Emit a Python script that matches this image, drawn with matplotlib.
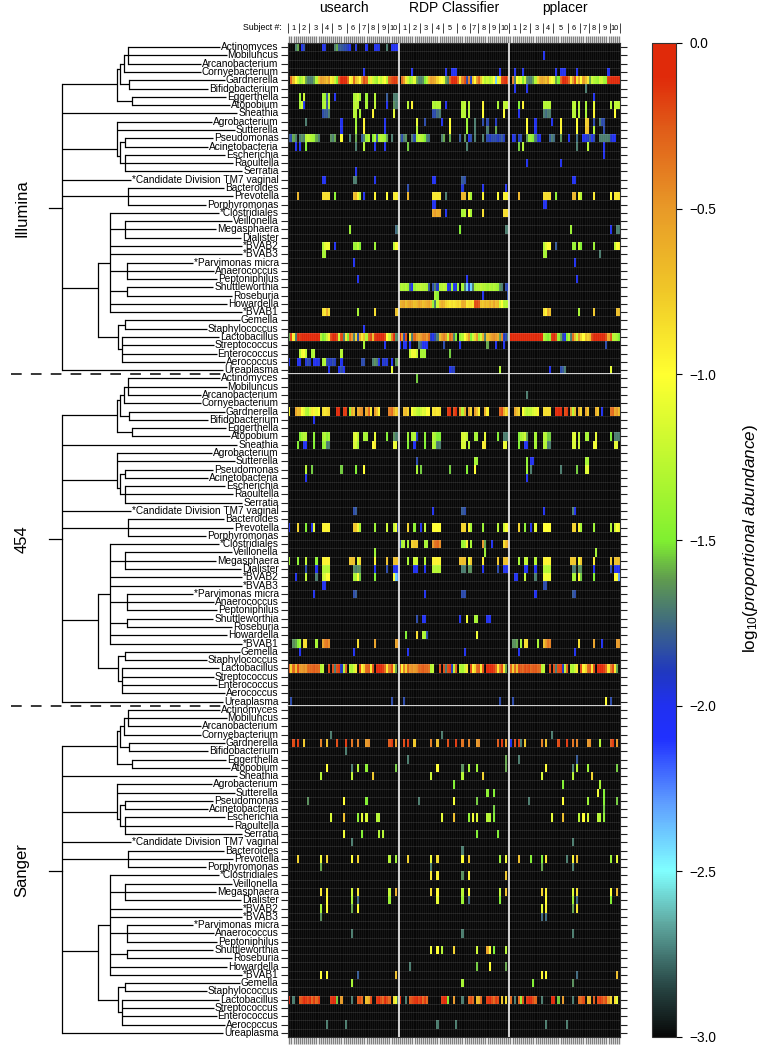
# abundance heatmap: three sequencing platforms, three classifiers, with a taxon tree on the left
import numpy as np
import matplotlib
matplotlib.use("Agg")
import matplotlib.pyplot as plt
from matplotlib.colors import LinearSegmentedColormap

plt.rcParams["font.family"] = "Liberation Sans"
plt.rcParams["mathtext.fontset"] = "custom"
plt.rcParams["mathtext.rm"] = "Liberation Sans"
plt.rcParams["mathtext.it"] = "Liberation Sans:italic"

taxa = ["Actinomyces", "Mobiluncus", "Arcanobacterium", "Cornyebacterium", "Gardnerella",
        "Bifidobacterium", "Eggerthella", "Atopobium", "Sneathia", "Agrobacterium",
        "Sutterella", "Pseudomonas", "Acinetobacteria", "Escherichia", "Raoultella",
        "Serratia", "*Candidate Division TM7 vaginal", "Bacteroides", "Prevotella",
        "Porphyromonas", "*Clostridiales", "Veillonella", "Megasphaera", "Dialister",
        "*BVAB2", "*BVAB3", "*Parvimonas micra", "Anaerococcus", "Peptoniphilus",
        "Shuttleworthia", "Roseburia", "Howardella", "*BVAB1", "Gemella",
        "Staphylococcus", "Lactobacillus", "Streptococcus", "Enterococcus", "Aerococcus",
        "Ureaplasma"]
methods = ["usearch", "RDP Classifier", "pplacer"]
platforms = ["Illumina", "454", "Sanger"]
subject_starts = [0, 5, 10, 16, 21, 28, 34, 38, 43, 48, 53]
cbar_ticks = [-3.0, -2.5, -2.0, -1.5, -1.0, -0.5, 0.0]

# each table is row -> {specimen column: log10 abundance}; anything missing is -3 (black)
ILLUMINA_USEARCH = {
    0: {3: -1.7, 4: -1.6, 6: -2, 7: -1.85, 16: -2, 17: -1.95, 22: -1.7, 23: -1.6, 24: -1.8, 25: -1.8, 26: -1.85, 27: -1.85,
        28: -1.9, 29: -2, 32: -1.95, 37: -2, 41: -2, 42: -2, 43: -1.95, 47: -1.7, 49: -2, 50: -2, 51: -2.05, 52: -2},
    3: {36: -2},
    4: dict(enumerate([-3, -0.3, -0.7, -1.0, -1.2, -1.4, -1.3, -1.15, -1.6, -1.7, -1.7, -1.7, -1.6, -1.3, -0.7, -0.5, -0.55, -0.6,
                       -0.7, -0.5, -0.95, -0.85, -1.2, -1.5, -0.3, -0.1, -0.1, -0.1, -0.3, -1.0, -0.9, -0.3, -0.7, -0.8, -1.0,
                       -0.5, -0.2, -0.3, -1.2, -0.9, -1.2, -1.3, -1.4, -1.1, -1.25, -1.1, -1.0, -1.3, -0.3, -0.2, -0.15, -0.15, -0.3])),
    6: {5: -1.4, 7: -1.2, 16: -1.35, 17: -1.4, 18: -1.8, 19: -1.3, 22: -2, 31: -1.35, 32: -1.3, 33: -1.2, 34: -1.4, 37: -1.4,
        41: -1.3, 47: -1.8, 50: -1.7, 51: -1.7, 52: -1.7},
    7: {5: -1.35, 6: -1.2, 7: -2, 16: -1.35, 17: -1.3, 18: -1.8, 19: -1.3, 31: -1.3, 32: -1.25, 33: -1.3, 37: -1.35, 41: -1.25,
        47: -2, 50: -1.65, 51: -1.7, 52: -1.7},
    8: {16: -1.85, 17: -1.8, 18: -1.8, 19: -1.7, 31: -1.3, 32: -1.3, 34: -1.35, 40: -0.95, 50: -1.1},
    9: {8: -1.7, 25: -2, 32: -1.4, 36: -0.95, 46: -2},
    10: {25: -2, 32: -1.35, 36: -0.95, 46: -2},
    11: {0: -1.8, 1: -1.85, 2: -1.6, 3: -1.7, 5: -1.7, 6: -1.65, 7: -1.7, 8: -1.3, 9: -1.25, 10: -1.3, 11: -1.35, 12: -1.4,
         13: -1.6, 14: -1.7, 20: -1.65, 21: -1.7, 22: -1.6, 25: -1.0, 29: -1.7, 32: -1.6, 35: -1.8, 36: -1.7, 37: -1.4, 38: -1.3,
         40: -1.5, 41: -1.3, 42: -1.8, 43: -1.35, 44: -1.3, 45: -1.35, 46: -1.4, 47: -1.6, 49: -1.7},
    12: {3: -2, 5: -2, 8: -1.5, 32: -1.7, 36: -1.3, 41: -2, 46: -2},
    15: {32: -2},
    16: {16: -2, 17: -2, 31: -1.7, 32: -1.7, 41: -2},
    18: {4: -0.65, 16: -0.85, 17: -0.85, 18: -0.85, 19: -0.85, 22: -1.45, 31: -0.7, 32: -0.65, 33: -0.95, 34: -1.3, 36: -2,
         41: -0.95, 47: -1.0, 50: -0.9, 51: -0.95, 52: -0.9},
    22: {29: -1.4, 51: -1.75, 52: -1.7},
    24: {16: -1.3, 17: -1.1, 18: -1.05, 19: -1.05, 22: -2, 31: -1.4, 32: -1.4, 33: -1.25, 34: -1.5, 41: -1.4, 50: -1.25, 51: -1.0, 52: -1.0},
    25: {16: -1.35, 17: -1.35},
    26: {31: -2},
    28: {33: -2},
    32: {16: -0.85, 17: -0.9, 18: -0.6, 19: -0.85, 33: -1.35, 41: -0.85, 51: -0.7, 52: -0.8},
    34: {36: -2},
    35: dict(enumerate([-1.6, -0.2, -0.95, -1.7, -0.1, -0.15, -0.05, -0.05, -0.05, -0.05, -0.05, -0.05, -0.05, -0.05, -0.1, -1.3, -1.5,
                        -1.4, -1.2, -0.95, -0.2, -0.1, -0.1, -0.2, -1.2, -0.2, -1.7, -0.9, -1.5, -0.3, -0.5, -1.7, -0.8, -1.85, -0.6,
                        -0.9, -0.7, -1.3, -0.3, -0.2, -0.7, -0.15, -0.05, -0.05, -0.1, -0.05, -0.2, -1.0, -1.2, -0.4, -0.1, -1.65, -1.7])),
    36: {36: -1.35, 46: -2},
    37: {5: -1.3, 6: -1.05, 7: -1.0, 8: -1.25, 11: -1.35, 12: -1.3, 25: -1.3},
    38: {0: -2, 4: -2, 5: -2, 8: -1.95, 9: -1.85, 10: -1.9, 12: -2, 13: -2, 14: -1.95, 16: -1.35, 17: -1.3, 18: -1.85, 19: -1.9,
         20: -1.9, 21: -1.85, 22: -1.9, 25: -2, 35: -1.85, 36: -1.85, 40: -1.7, 41: -1.65, 42: -1.7, 43: -2, 45: -1.95, 46: -1.9,
         47: -1.95, 49: -2, 51: -1.65, 52: -1.6},
    39: {19: -2, 24: -2, 25: -1.85, 26: -2, 49: -1.1},
}
ILLUMINA_RDP = {
    3: {6: -2, 22: -2, 25: -2, 26: -2.05, 27: -2, 48: -2},
    4: dict(enumerate([-3, -0.3, -0.5, -0.9, -1.2, -1.4, -1.3, -1.1, -1.6, -1.7, -1.7, -1.65, -1.5, -1.3, -0.7, -0.5, -0.55, -0.6, -0.8,
                       -0.95, -1.0, -1.1, -1.6, -1.7, -0.3, -0.1, -0.1, -0.1, -0.3, -0.9, -0.4, -0.2, -1.85, -0.4, -1.9, -0.7, -1.0,
                       -0.5, -0.3, -0.7, -1.1, -1.3, -1.2, -1.3, -1.2, -1.0, -2.4, -1.1, -0.9, -0.2, -0.15, -0.1, -0.3])),
    7: {4: -1.3, 6: -0.95, 16: -1.3, 17: -1.35, 18: -1.3, 19: -1.3, 22: -2, 30: -1.3, 31: -1.25, 33: -1.3, 40: -0.95, 47: -1.35,
        50: -1.25, 51: -1.25, 52: -1.25},
    8: {16: -1.85, 17: -1.85, 18: -1.75, 19: -1.7, 30: -1.3, 31: -1.3, 33: -1.3, 40: -1.0, 50: -1.0},
    9: {8: -1.1, 12: -1.85, 20: -2, 24: -1.0, 32: -1.4, 36: -1.7, 40: -1.85, 42: -1.85, 46: -1.9},
    10: {8: -1.3, 24: -1.0, 32: -1.4, 36: -1.7, 42: -1.7, 46: -1.6},
    11: {0: -1.7, 1: -1.85, 2: -1.7, 3: -1.65, 6: -1.7, 7: -1.85, 8: -1.35, 9: -1.25, 10: -1.3, 11: -1.35, 12: -1.5, 13: -1.7, 14: -1.75,
         20: -1.7, 21: -1.6, 24: -1.6, 29: -1.8, 31: -1.65, 33: -2, 34: -1.85, 36: -1.7, 40: -1.7, 42: -1.85, 43: -1.9, 44: -1.85,
         45: -1.85, 46: -1.85, 47: -1.9, 48: -1.85, 49: -1.8, 50: -1.9},
    12: {4: -1.55, 32: -1.7},
    16: {16: -2, 17: -2, 30: -1.8, 31: -1.85},
    17: {4: -1.85, 30: -1.95, 40: -2, 51: -2},
    18: {4: -0.65, 16: -0.9, 17: -0.9, 18: -0.9, 19: -0.9, 22: -1.7, 30: -0.65, 31: -0.65, 33: -0.9, 34: -1.35, 40: -0.95, 47: -1.0,
         50: -0.95, 51: -0.95, 52: -0.95},
    19: {16: -2, 17: -2},
    20: {16: -0.6, 17: -0.5, 18: -0.6, 19: -0.55, 22: -2, 30: -1.35, 31: -1.3, 33: -1.0, 34: -1.35, 40: -0.85, 50: -0.85, 51: -0.85, 52: -0.85},
    22: {29: -1.5, 51: -1.7, 52: -1.7},
    28: {32: -2},
    29: dict(enumerate([-1.35, -1.3, -1.35, -1.3, -1.4, -1.8, -2, -1.4, -1.3, -1.3, -1.25, -1.3, -1.3, -1.35, -1.8, -3, -1.85, -1.7, -1.9,
                        -1.3, -1.3, -1.25, -1.3, -2, -1.9, -1.4, -2, -1.95, -1.4, -3, -1.35, -1.7, -2.4, -1.9, -2.4, -1.7, -1.35, -1.3,
                        -1.3, -1.25, -1.3, -1.3, -1.35, -1.3, -1.35, -1.3, -1.35, -1.4, -1.65, -1.7, -3, -1.85, -1.9])),
    30: {17: -1.35, 18: -1.45, 40: -2, 52: -1.85},
    31: dict(enumerate([-0.65, -0.6, -0.55, -0.7, -0.6, -0.55, -0.6, -0.7, -0.65, -0.55, -0.6, -0.7, -0.65, -0.6, -0.55, -0.7, -1.4,
                        -1.7, -1.2, -0.7, -0.6, -0.65, -0.8, -0.85, -0.9, -0.85, -0.9, -0.85, -0.8, -0.85, -0.6, -0.6, -0.9, -0.85,
                        -0.85, -0.9, -0.2, -0.2, -0.25, -0.7, -0.75, -0.65, -0.7, -0.6, -0.7, -0.55, -0.7, -0.65, -1.2, -1.0, -1.3, -1.3, -1.3])),
    36: {0: -2, 2: -2.05, 3: -2, 5: -2, 9: -1.7, 10: -1.8, 11: -2, 12: -2, 13: -2, 21: -1.85, 29: -2, 42: -1.6, 46: -2, 50: -2},
    35: dict(enumerate([-0.1, -0.5, -1.85, -0.2, -3, -0.9, -1.7, -0.3, -0.5, -0.6, -0.5, -0.4, -0.4, -0.5, -0.3, -1.9, -2.0, -1.85, -1.7,
                        -0.7, -0.5, -0.4, -0.5, -1.2, -0.3, -0.4, -1.7, -1.5, -3, -1.4, -1.3, -1.0, -0.8, -0.5, -1.5, -1.2, -0.8, -0.5,
                        -1.4, -1.2, -0.6, -1.7, -0.7, -0.6, -0.5, -0.45, -0.5, -0.6, -1.6, -0.4, -1.9, -1.85, -1.7])),
    37: {5: -1.25, 6: -1.05, 7: -1.05, 8: -1.2, 10: -1.35, 11: -1.35, 12: -1.35, 24: -1.55},
    39: {24: -2, 25: -1.9, 26: -1.9, 48: -1.3},
}
ILLUMINA_PPLACER = {
    1: {16: -2},
    3: {2: -2, 6: -2, 22: -2, 24: -2, 25: -2, 26: -2, 32: -2, 47: -2},
    4: dict(enumerate([-3, -0.4, -1.7, -1.0, -1.2, -1.1, -1.5, -1.2, -1.65, -1.7, -1.7, -1.6, -1.3, -0.8, -0.6, -0.55, -0.6, -0.7, -0.5,
                       -0.9, -1.0, -1.1, -1.6, -1.5, -0.3, -0.1, -0.1, -0.15, -0.3, -0.9, -0.5, -0.2, -0.9, -0.6, -1.0, -0.5, -0.7,
                       -0.9, -1.6, -1.2, -1.3, -1.35, -1.4, -1.2, -1.2, -1.35, -1.4, -0.15, -0.1, -0.1, -0.1, -0.1, -0.1])),
    5: {2: -2, 8: -2, 36: -1.7},
    6: {40: -2},
    7: {4: -1.5, 6: -0.95, 16: -1.3, 17: -1.3, 18: -1.3, 19: -1.3, 30: -1.3, 31: -1.25, 33: -1.3, 36: -1.35, 40: -1.1, 48: -1.3,
        50: -1.25, 51: -1.25, 52: -1.25},
    8: {4: -2, 16: -1.7, 17: -1.75, 18: -1.7, 19: -1.7, 30: -1.3, 31: -1.3, 33: -1.3, 36: -1.35, 40: -0.95, 50: -1.0},
    9: {8: -1.0, 12: -2, 20: -2, 24: -0.95, 32: -1.0, 36: -0.8, 37: -0.75, 40: -1.85, 43: -1.7, 44: -1.85, 45: -1.85},
    10: {8: -1.0, 12: -2, 24: -0.95, 32: -1.0, 36: -0.75, 37: -0.7, 40: -1.3, 45: -1.85},
    11: {1: -2, 2: -1.9, 4: -1.9, 5: -1.85, 8: -1.65, 9: -1.4, 10: -1.4, 11: -1.5, 12: -1.7, 13: -1.95, 14: -2, 19: -1.8, 20: -1.7,
         21: -1.75, 24: -1.65, 28: -2, 32: -1.75, 35: -2, 36: -1.95, 37: -1.9, 38: -1.8, 39: -2, 40: -1.85, 43: -1.7, 44: -1.7,
         45: -1.7, 46: -1.7, 47: -1.7, 48: -1.9, 49: -2, 50: -2},
    12: {4: -1.55, 6: -1.3, 32: -1.7, 37: -1.3, 45: -2},
    13: {45: -2},
    14: {8: -2, 24: -2},
    16: {30: -2, 31: -2},
    18: {4: -0.65, 16: -0.85, 17: -0.85, 18: -0.85, 19: -0.85, 22: -1.45, 30: -0.65, 31: -0.65, 33: -0.95, 34: -1.3, 40: -0.9, 48: -1.0,
         50: -0.9, 51: -0.9, 52: -0.9},
    19: {16: -2, 17: -2},
    22: {29: -1.4, 48: -2, 51: -1.7, 52: -1.7},
    24: {16: -1.3, 17: -1.1, 18: -1.0, 19: -1.0, 22: -1.8, 30: -1.4, 31: -1.4, 33: -1.25, 34: -1.5, 40: -1.4, 50: -1.25, 51: -1.0, 52: -1.0},
    25: {16: -1.35, 17: -1.35, 43: -1.7},
    26: {31: -2},
    28: {32: -2},
    32: {16: -0.85, 17: -0.95, 18: -0.6, 19: -0.7, 33: -1.35, 40: -0.75, 51: -0.7, 52: -0.7},
    35: dict(enumerate([-0.05, -0.05, -0.1, -0.05, -0.05, -0.1, -0.05, -0.05, -0.05, -0.1, -0.05, -0.05, -0.1, -0.05, -0.05, -0.1, -1.3,
                        -1.4, -1.5, -1.4, -0.15, -0.1, -0.2, -1.4, -1.6, -1.85, -2, -1.5, -1.3, -1.7, -0.3, -0.7, -1.2, -0.5, -0.8, -1.0,
                        -0.7, -0.8, -0.7, -0.2, -0.1, -0.05, -0.05, -0.1, -0.05, -0.1, -0.2, -0.6, -0.25, -1.3, -1.3, -1.35, -1.5])),
    36: {46: -1.85},
    39: {19: -2, 24: -1.85, 25: -1.8, 26: -1.7, 48: -1.1},
}

FOUR54_USEARCH = {
    4: {0: -1.0, 3: -0.55, 4: -0.7, 5: -0.65, 6: -1.0, 7: -1.1, 8: -1.3, 9: -1.35, 10: -1.15, 11: -0.9, 12: -0.95, 13: -1.1, 14: -1.0,
        16: -0.85, 17: -0.9, 18: -0.85, 19: -0.8, 23: -0.1, 24: -0.1, 26: -0.15, 27: -0.15, 29: -1.4, 30: -0.6, 31: -0.7, 33: -0.6,
        34: -0.5, 35: -0.45, 37: -0.6, 38: -0.3, 39: -0.9, 41: -0.5, 42: -0.7, 43: -0.95, 48: -0.4, 49: -0.3, 50: -0.6, 51: -0.8, 52: -0.7},
    5: {12: -2},
    7: {5: -1.5, 6: -1.35, 7: -1.3, 8: -1.3, 12: -1.45, 16: -1.35, 17: -1.3, 18: -1.45, 19: -1.35, 31: -1.15, 32: -1.1, 33: -1.25,
        36: -1.35, 37: -1.35, 41: -1.1, 47: -1.5, 50: -1.65, 51: -1.7, 52: -1.7},
    8: {4: -1.5, 7: -2, 8: -2.05, 12: -1.5, 16: -1.45, 17: -1.4, 18: -1.7, 19: -1.7, 31: -1.15, 32: -1.15, 33: -1.35, 40: -1.0, 41: -0.9,
        50: -1.05, 51: -1.1},
    11: {8: -1.3, 11: -1.55, 25: -1.55, 32: -1.5, 36: -1.0},
    12: {8: -2},
    16: {31: -1.85, 32: -1.8},
    18: {0: -2, 4: -0.8, 8: -1.5, 11: -2, 12: -1.1, 16: -0.95, 17: -0.95, 18: -0.95, 19: -0.95, 31: -0.75, 32: -0.75, 33: -0.95, 34: -1.35,
         41: -1.4, 47: -1.2, 50: -1.25, 51: -1.05, 52: -1.85},
    21: {41: -1.4},
    22: {0: -1.35, 4: -1.45, 8: -1.25, 13: -1.45, 16: -0.95, 17: -0.95, 18: -0.95, 19: -0.95, 29: -0.75, 30: -0.7, 31: -0.7, 33: -1.15,
         34: -0.8, 41: -0.95, 47: -0.7, 50: -0.7, 51: -0.7, 52: -0.7},
    23: {8: -1.85, 13: -2, 16: -1.3, 17: -1.3, 18: -1.3, 19: -1.3, 31: -1.65, 32: -1.7, 33: -1.65, 34: -1.65, 41: -2, 47: -1.85,
         50: -2, 51: -2, 52: -2},
    24: {3: -2, 8: -1.25, 13: -1.7, 16: -1.2, 17: -1.15, 18: -1.0, 19: -1.0, 31: -1.35, 32: -1.35, 33: -1.0, 34: -1.55, 41: -1.5,
         50: -1.0, 51: -2.4, 52: -2.3},
    25: {16: -2, 17: -2},
    26: {12: -2, 31: -1.85, 32: -1.8},
    32: {2: -1.65, 3: -1.6, 4: -1.5, 5: -1.35, 7: -0.85, 8: -0.85, 13: -1.35, 16: -0.55, 17: -0.4, 18: -0.35, 19: -0.45, 33: -0.85,
         41: -0.55, 51: -0.55, 52: -0.5},
    33: {5: -2, 31: -2},
    35: {0: -0.3, 1: -0.8, 2: -0.3, 3: -0.7, 4: -0.2, 5: -0.5, 6: -0.5, 7: -0.45, 8: -0.5, 9: -0.3, 10: -0.3, 11: -0.3, 12: -0.25, 13: -0.3,
         14: -0.3, 15: -1.3, 16: -1.25, 19: -0.2, 21: -0.2, 22: -1.7, 23: -0.2, 24: -0.15, 25: -1.9, 26: -1.3, 27: -0.3, 29: -1.3, 30: -1.35,
         31: -1.2, 32: -0.9, 34: -0.2, 35: -0.95, 36: -0.8, 37: -0.3, 38: -0.25, 39: -0.9, 40: -0.2, 42: -0.1, 43: -0.1, 44: -0.1, 45: -0.15,
         46: -0.3, 47: -0.9, 48: -0.4, 49: -0.2, 50: -0.9, 51: -1.6},
    39: {1: -1.85, 49: -1.85},
}
FOUR54_RDP = {
    0: {8: -1.55},
    4: {2: -0.7, 3: -0.65, 4: -0.8, 6: -1.0, 7: -1.15, 8: -1.25, 9: -1.3, 10: -1.2, 11: -1.1, 12: -1.15, 13: -1.0, 14: -1.0, 16: -0.9,
        17: -0.85, 18: -0.9, 19: -0.85, 23: -0.15, 24: -0.1, 26: -0.2, 27: -0.1, 29: -0.5, 30: -1.3, 31: -0.6, 33: -0.55, 34: -0.8,
        36: -0.5, 37: -0.7, 38: -0.95, 41: -0.6, 42: -0.95, 48: -0.3, 49: -0.2, 50: -0.6, 51: -0.85, 52: -0.7},
    7: {4: -1.4, 6: -1.35, 7: -1.3, 8: -1.9, 12: -1.45, 16: -1.3, 17: -1.35, 18: -1.5, 19: -1.5, 30: -1.15, 31: -1.15, 32: -1.25, 36: -1.35,
        37: -1.35, 41: -1.1, 47: -1.5, 50: -1.7, 51: -1.7, 52: -1.7},
    8: {4: -1.5, 7: -2, 12: -1.5, 16: -1.3, 17: -1.35, 18: -1.7, 19: -1.7, 30: -1.15, 31: -1.15, 33: -1.3, 40: -0.95, 41: -0.9, 50: -1.05, 51: -1.1},
    10: {8: -1.85, 36: -1.35, 37: -1.4},
    11: {8: -1.35, 10: -1.55, 24: -1.55, 32: -1.5, 36: -1.0},
    16: {16: -2, 30: -1.8, 31: -1.85},
    18: {4: -0.8, 7: -1.45, 10: -2, 12: -1.25, 16: -1.0, 17: -1.0, 18: -1.0, 19: -1.0, 30: -0.8, 31: -0.8, 33: -0.95, 34: -1.35, 40: -1.4,
         47: -1.3, 50: -1.2, 51: -1.0, 52: -1.0},
    20: {0: -1.85, 1: -1.35, 2: -1.3, 4: -1.35, 6: -0.8, 7: -0.75, 8: -0.75, 12: -1.35, 13: -1.35, 16: -0.5, 17: -0.35, 18: -0.3, 19: -0.45,
         30: -1.4, 31: -1.35, 32: -0.95, 34: -1.35, 40: -0.5, 41: -1.6, 44: -2, 50: -0.85, 51: -0.7, 52: -0.55},
    21: {41: -1.4},
    22: {4: -1.35, 7: -1.2, 8: -1.2, 12: -1.3, 16: -0.95, 17: -0.95, 18: -0.95, 19: -0.95, 29: -0.7, 30: -0.7, 31: -0.7, 33: -1.1, 34: -0.75,
         40: -0.9, 47: -0.75, 50: -0.7, 51: -0.7, 52: -0.7},
    23: {7: -2, 8: -2, 12: -2, 16: -1.3, 17: -1.3, 18: -1.3, 19: -1.3, 30: -1.7, 31: -1.7, 33: -1.65, 34: -1.65, 40: -2, 47: -1.85, 50: -2, 51: -2, 52: -2},
    26: {12: -2, 30: -1.85, 31: -1.85},
    29: {8: -1.85, 11: -2, 12: -2, 29: -2, 32: -1.05, 36: -1.35, 37: -1.35, 42: -2, 43: -2},
    31: {3: -1.5, 8: -0.85, 11: -1.3, 12: -1.35, 13: -1.85, 37: -1.05},
    33: {4: -2, 31: -2},
    35: {0: -0.3, 1: -0.95, 2: -0.4, 3: -0.8, 4: -0.3, 5: -0.5, 6: -0.45, 7: -0.5, 8: -0.45, 9: -0.3, 10: -0.3, 11: -0.25, 12: -0.3, 13: -0.3,
         14: -0.35, 15: -1.3, 16: -1.25, 19: -0.2, 21: -0.2, 22: -1.7, 23: -0.2, 24: -0.15, 25: -1.9, 26: -1.3, 27: -0.3, 29: -1.3, 30: -1.35,
         31: -1.2, 32: -0.9, 34: -0.2, 35: -0.95, 36: -0.8, 37: -0.3, 38: -0.25, 39: -0.9, 40: -0.2, 42: -0.1, 43: -0.1, 44: -0.1, 45: -0.15,
         46: -0.3, 47: -0.9, 48: -0.4, 49: -0.2, 50: -0.9, 51: -1.6},
    39: {2: -1.85, 48: -1.85},
}
FOUR54_PPLACER = {
    2: {8: -1.7},
    4: {2: -0.55, 3: -0.7, 4: -0.8, 6: -1.0, 7: -1.2, 8: -1.3, 9: -1.25, 10: -1.25, 11: -1.15, 12: -1.1, 13: -0.95, 16: -0.85, 17: -0.85,
        18: -0.85, 19: -0.85, 22: -0.1, 23: -0.1, 24: -0.1, 26: -0.2, 27: -0.15, 29: -0.5, 30: -1.3, 31: -0.7, 33: -0.6, 34: -0.8, 36: -0.55,
        37: -0.75, 41: -0.6, 42: -0.75, 44: -2, 48: -0.35, 49: -0.3, 50: -0.6, 51: -0.5, 52: -0.7},
    7: {4: -1.5, 5: -1.35, 6: -1.3, 7: -1.2, 8: -1.6, 12: -1.35, 16: -1.3, 17: -1.3, 18: -1.55, 19: -1.55, 30: -1.15, 31: -1.1, 33: -1.25,
        36: -1.35, 37: -1.35, 41: -1.1, 48: -1.5, 50: -1.7, 51: -1.7, 52: -1.7},
    8: {4: -1.5, 7: -2, 8: -2, 12: -1.35, 16: -1.3, 17: -1.3, 18: -1.7, 19: -1.7, 30: -1.15, 31: -1.15, 33: -1.2, 40: -1.05, 41: -1.05, 50: -1.1, 51: -1.1},
    10: {8: -1.45, 10: -2, 11: -2, 36: -1.35, 37: -1.35},
    11: {8: -1.4, 10: -1.7, 24: -1.7, 32: -1.55, 36: -1.15, 37: -1.1},
    12: {8: -2},
    16: {16: -2, 30: -1.7, 31: -2},
    18: {4: -0.8, 7: -1.45, 10: -2, 12: -1.1, 16: -1.0, 17: -1.0, 18: -1.0, 19: -1.0, 30: -0.8, 31: -0.8, 33: -0.95, 34: -1.35, 40: -1.4,
         48: -1.3, 50: -1.2, 51: -1.0, 52: -1.05},
    21: {41: -1.35},
    22: {4: -1.35, 7: -1.25, 8: -1.25, 12: -1.3, 16: -0.95, 17: -0.95, 18: -0.95, 19: -0.95, 29: -0.75, 30: -0.75, 31: -0.75, 33: -1.05, 34: -0.75,
         40: -0.9, 48: -0.75, 50: -0.7, 51: -0.7, 52: -0.7},
    23: {7: -2, 8: -2, 12: -2, 16: -1.3, 17: -1.3, 18: -1.3, 19: -1.3, 30: -1.7, 31: -1.7, 33: -1.65, 34: -1.65, 40: -2, 48: -1.85, 50: -2, 51: -2, 52: -2},
    24: {2: -2, 3: -2, 7: -1.25, 12: -1.7, 16: -1.05, 17: -1.05, 18: -1.05, 19: -1.05, 30: -1.35, 31: -1.35, 33: -1.0, 34: -1.55, 40: -1.5,
         50: -1.0, 51: -1.0, 52: -2.3},
    25: {16: -1.85, 17: -1.85},
    26: {12: -2, 30: -1.8, 31: -1.85},
    32: {1: -1.65, 2: -1.65, 3: -1.6, 5: -1.35, 7: -0.85, 8: -0.85, 13: -1.35, 16: -0.7, 17: -0.5, 18: -0.35, 19: -0.4, 33: -0.85, 40: -0.55,
         44: -2, 51: -0.5, 52: -0.5},
    33: {4: -2, 31: -2},
    35: {0: -0.3, 1: -0.8, 2: -0.3, 3: -0.7, 4: -0.2, 5: -0.25, 6: -0.3, 7: -0.2, 8: -0.25, 9: -0.2, 10: -0.3, 11: -0.25, 12: -0.25, 13: -0.3,
         14: -0.3, 15: -1.3, 16: -1.25, 19: -0.2, 21: -0.2, 22: -1.7, 23: -0.2, 24: -0.15, 25: -1.9, 26: -1.3, 27: -0.3, 29: -1.3, 30: -1.35,
         31: -1.2, 32: -0.9, 34: -0.2, 35: -0.95, 36: -0.8, 37: -0.3, 38: -0.25, 39: -0.9, 40: -0.2, 42: -0.1, 43: -0.1, 44: -0.1, 45: -0.15,
         46: -0.3, 47: -0.9, 48: -0.4, 49: -0.2, 50: -0.9, 51: -1.6},
    39: {1: -1.85, 46: -1.0, 48: -1.85},
}

SANGER_USEARCH = {
    3: {20: -1.7},
    4: {2: -0.2, 4: -0.15, 7: -0.75, 15: -0.4, 18: -0.7, 23: -0.2, 27: -0.15, 30: -0.35, 33: -0.4, 37: -0.5, 38: -0.45, 48: -0.25, 49: -0.15, 51: -0.5},
    5: {27: -1.7},
    7: {18: -1.0, 30: -1.7, 33: -1.3, 37: -1.45, 51: -1.55},
    8: {15: -1.3, 30: -1.25, 40: -0.75},
    11: {9: -1.65, 26: -1.0, 37: -1.5},
    13: {20: -1.15, 26: -0.7, 33: -1.45, 35: -1.1, 37: -1.15, 42: -1.3, 43: -1.3},
    15: {26: -1.05, 35: -1.5, 43: -1.3, 45: -1.3},
    16: {30: -1.7},
    18: {4: -0.8, 15: -1.05, 18: -0.8, 30: -1.0, 33: -0.8, 48: -1.3, 51: -1.4},
    19: {15: -1.6},
    22: {15: -0.9, 18: -0.95, 30: -1.2, 33: -0.9, 48: -1.25, 51: -0.6},
    23: {18: -1.0, 30: -1.35, 33: -1.75, 48: -1.4},
    24: {15: -1.35, 18: -1.0, 30: -1.6, 33: -1.0},
    25: {15: -1.65},
    27: {30: -1.7},
    32: {15: -1.0, 18: -1.0, 33: -1.8, 51: -0.7},
    33: {30: -1.35},
    35: {0: -0.1, 2: -1.7, 5: -0.25, 6: -0.2, 7: -0.1, 8: -0.15, 9: -0.2, 10: -0.1, 11: -0.3, 12: -0.15, 13: -0.3, 14: -0.15, 20: -0.15, 21: -0.1,
         22: -0.1, 23: -1.55, 25: -0.5, 30: -1.7, 33: -0.25, 34: -0.2, 35: -0.3, 37: -0.7, 38: -0.6, 39: -0.2, 42: -0.15, 43: -0.1, 44: -0.2,
         45: -0.3, 46: -0.1, 47: -0.2, 48: -0.3, 50: -0.85, 51: -1.1, 52: -1.7},
    38: {18: -1.7, 27: -1.7},
}
SANGER_RDP = {
    3: {20: -1.7},
    4: {2: -0.2, 4: -0.15, 7: -0.75, 15: -0.4, 18: -0.7, 23: -0.2, 27: -0.15, 30: -0.35, 33: -0.4, 37: -0.5, 38: -0.45, 47: -0.25, 49: -0.15, 51: -0.5},
    6: {4: -1.7, 51: -1.6},
    7: {18: -1.0, 30: -1.65, 33: -1.35, 37: -1.4, 51: -1.6},
    8: {15: -1.2, 30: -1.3, 40: -0.8},
    9: {26: -1.5},
    10: {42: -1.45, 45: -1.5},
    11: {9: -1.7, 26: -1.05, 37: -1.55},
    12: {45: -1.55},
    13: {20: -1.1, 26: -0.7, 33: -1.45, 35: -1.05, 37: -1.15, 42: -1.3, 43: -1.3, 45: -1.5},
    15: {37: -1.5, 47: -1.5},
    17: {30: -1.7},
    18: {4: -0.8, 15: -1.05, 18: -0.85, 30: -1.0, 33: -0.75, 48: -1.4, 51: -1.05},
    19: {15: -1.7},
    20: {15: -0.9, 18: -0.95, 30: -1.65, 33: -0.95, 51: -0.75},
    22: {15: -0.85, 18: -1.0, 30: -1.3, 33: -1.0, 48: -1.25, 51: -0.7},
    23: {18: -1.1, 30: -1.4, 33: -1.75, 48: -1.5},
    27: {30: -1.7},
    29: {15: -1.05, 18: -1.0, 20: -1.3, 26: -0.8, 37: -1.2, 42: -0.55, 43: -1.0, 45: -1.5, 51: -1.3},
    31: {5: -1.7, 37: -1.55, 43: -1.0, 51: -1.6},
    33: {30: -1.35},
    35: {0: -0.1, 3: -1.7, 5: -0.25, 6: -0.2, 7: -0.15, 8: -0.1, 9: -0.2, 10: -0.1, 11: -0.3, 12: -0.15, 13: -0.3, 20: -0.15, 21: -0.1, 22: -0.1,
         23: -1.5, 26: -0.5, 30: -1.7, 33: -0.3, 34: -0.2, 35: -0.3, 37: -0.7, 38: -0.65, 39: -0.3, 42: -0.15, 43: -0.1, 44: -0.2, 45: -0.3,
         46: -0.15, 47: -0.2, 49: -0.75, 51: -0.85},
    38: {18: -1.7, 27: -1.7},
}
SANGER_PPLACER = {
    3: {20: -1.7},
    4: {0: -2, 2: -0.2, 4: -0.15, 5: -1.7, 7: -0.75, 15: -0.4, 17: -0.7, 23: -0.2, 27: -0.15, 30: -0.35, 32: -0.4, 37: -0.5, 38: -0.45, 43: -1.3,
        48: -0.25, 49: -0.15, 51: -0.5},
    6: {4: -1.7, 32: -1.8},
    7: {17: -1.0, 30: -1.7, 32: -1.3, 37: -1.4, 51: -1.55},
    8: {15: -1.15, 30: -1.3, 39: -0.8},
    9: {25: -1.5, 43: -1.35},
    10: {42: -1.05, 45: -1.5},
    11: {9: -1.7, 25: -1.0, 37: -1.4, 45: -1.5, 51: -1.55},
    12: {45: -1.55},
    13: {20: -1.1, 25: -0.7, 33: -1.3, 35: -1.0, 37: -1.15, 42: -1.3, 43: -1.3, 45: -1.45},
    16: {30: -1.7},
    18: {4: -0.7, 10: -1.5, 15: -1.5, 17: -0.9, 27: -1.7, 30: -0.95, 32: -0.7, 48: -1.4, 51: -1.1},
    19: {15: -1.6, 30: -1.7},
    22: {15: -0.8, 17: -0.95, 30: -1.15, 32: -0.85, 48: -1.0, 51: -0.65},
    23: {17: -1.0, 30: -1.4, 32: -1.75, 48: -1.5},
    24: {15: -1.1, 17: -0.95, 30: -1.6, 32: -0.9},
    25: {15: -1.75, 17: -1.75},
    27: {30: -1.7},
    32: {15: -0.95, 17: -1.0, 32: -1.75, 51: -0.7},
    33: {11: -1.5, 30: -1.65},
    35: {0: -0.3, 2: -1.7, 4: -0.3, 5: -1.4, 6: -0.2, 8: -0.15, 9: -0.1, 10: -0.1, 11: -0.2, 12: -0.3, 15: -1.7, 20: -0.1, 21: -0.1, 23: -1.55,
         25: -0.5, 30: -1.7, 33: -0.3, 34: -0.3, 35: -0.2, 37: -0.7, 38: -0.65, 40: -0.25, 42: -0.2, 43: -0.15, 44: -0.2, 45: -0.3, 46: -0.2,
         47: -0.55, 48: -0.8, 50: -0.85, 51: -1.1},
    38: {17: -1.7, 27: -1.7},
}

# tree: (branch position, children, optional row override); an int child is a leaf row
TREE = (62.3, [
    (116.7, [
        (119.5, [
            (123.5, [(128.3, [0, 1, 2]), 3]),
            (129.0, [4, 5]),
        ], 2.6),
        (132.3, [6, 7]),
    ], 4.4),
    8,
    (116.7, [9, 10, (119.5, [(125.0, [11, 12]), (125.0, [13, 14, 15])], 13.2)], 12.3),
    16,
    (128.3, [17, 18, 19]),
    (97.7, [
        (110.0, [20, (125.0, [21, 22, 23]), 24, 25, (126.7, [26, 27, 28]), (127.0, [29, 30]), 31, 32]),
        (118.3, [(124.6, [33, 34]), (121.7, [35, 36, 37, 38])]),
    ], 29.1),
    39,
], 19.4)

cmap = LinearSegmentedColormap.from_list("abund", [
    (0.0, "#080808"), (0.16 / 3, "#2a4a48"), (0.34 / 3, "#5fa8a0"), (0.5 / 3, "#80ffff"),
    (0.7 / 3, "#60a0ff"), (0.9 / 3, "#2030ff"), (1.0 / 3, "#2030f0"), (1.1 / 3, "#2038c0"),
    (1.25 / 3, "#3f6a80"), (1.38 / 3, "#5f9a50"), (1.5 / 3, "#80f030"), (1.75 / 3, "#c0f830"),
    (2.0 / 3, "#ffff30"), (2.25 / 3, "#f0c828"), (2.5 / 3, "#e89a28"), (2.75 / 3, "#e05a18"),
    (2.9 / 3, "#e02a0a"), (1.0, "#e02a0a")], N=512)

W, H = 765, 1050
N_COLS = 53
N_ROWS = len(taxa)
LEFT, RIGHT = 288.3, 620.0
TOP, BOTTOM = 43.0, 1037.0
PANEL_H = (BOTTOM - TOP) / 3


def box(x0, y0, x1, y1):
    # pixel box -> figure fraction rect
    return [x0 / W, 1 - y1 / H, (x1 - x0) / W, (y1 - y0) / H]


def to_matrix(tables):
    m = np.full((N_ROWS, N_COLS * 3), -3.0)
    for k, table in enumerate(tables):
        for row, cells in table.items():
            for col, val in cells.items():
                m[row, k * N_COLS + col] = val
    return m


def draw_node(ax, node, tips):
    # returns the row the branch above this node should sit on
    x, children = node[0], node[1]
    ys = []
    for child in children:
        if isinstance(child, int):
            ax.plot([x, tips[child]], [child, child], color="k", lw=0.9, clip_on=False, solid_capstyle="butt")
            ys.append(child)
        else:
            y = draw_node(ax, child, tips)
            ax.plot([x, child[0]], [y, y], color="k", lw=0.9, clip_on=False, solid_capstyle="butt")
            ys.append(y)
    ax.plot([x, x], [min(ys), max(ys)], color="k", lw=0.9, clip_on=False, solid_capstyle="projecting")
    if len(node) > 2:
        return node[2]
    return (min(ys) + max(ys)) / 2


fig = plt.figure(figsize=(W / 100, H / 100), dpi=100)
tables = [
    [ILLUMINA_USEARCH, ILLUMINA_RDP, ILLUMINA_PPLACER],
    [FOUR54_USEARCH, FOUR54_RDP, FOUR54_PPLACER],
    [SANGER_USEARCH, SANGER_RDP, SANGER_PPLACER],
]
renderer = fig.canvas.get_renderer()

for p, name in enumerate(platforms):
    y0 = TOP + p * PANEL_H
    ax = fig.add_axes(box(LEFT, y0, RIGHT, y0 + PANEL_H))
    mesh = ax.pcolormesh(np.arange(N_COLS * 3 + 1) - 0.5, np.arange(N_ROWS + 1) - 0.5, to_matrix(tables[p]),
                         cmap=cmap, vmin=-3, vmax=0, antialiased=False, linewidth=0)
    ax.set_xlim(-0.5, N_COLS * 3 - 0.5)
    ax.set_ylim(N_ROWS - 0.5, -0.5)

    # faint cell grid
    ax.set_xticks(np.arange(N_COLS * 3 + 1) - 0.5, minor=True)
    ax.set_yticks(np.arange(N_ROWS + 1) - 0.5, minor=True)
    ax.grid(which="minor", axis="y", color="#ffffff", alpha=0.14, lw=0.5)
    ax.grid(which="minor", axis="x", color="#ffffff", alpha=0.1, lw=0.4)
    ax.tick_params(which="minor", length=0)

    ax.set_yticks(np.arange(N_ROWS))
    ax.set_yticklabels([])
    ax.tick_params(axis="y", left=True, right=True, length=5.2, width=0.8, color="#222222")

    ax.set_xticks(np.arange(N_COLS * 3))
    ax.set_xticklabels([])
    ax.tick_params(axis="x", top=(p == 0), bottom=(p == 2), length=5, width=1.0, color="#808080", pad=0)

    for k in [1, 2]:
        ax.axvline(k * N_COLS - 0.5, color="#e6e6e6", lw=1.3, zorder=5)
    if p < 2:
        ax.axhline(N_ROWS - 0.5, color="#e6e6e6", lw=1.3, zorder=5, clip_on=False)
    for side, spine in ax.spines.items():
        spine.set_color("#333333")
        spine.set_linewidth(0.8)
        spine.set_visible(side in ("left", "right") or (side == "top" and p == 0) or (side == "bottom" and p == 2))

    if p == 0:
        # subject strip and method titles along the top
        for k, method in enumerate(methods):
            off = k * N_COLS
            ax.text(off + N_COLS / 2 - 0.5, -4.75, method, ha="center", va="center", fontsize=10, clip_on=False)
            ax.vlines([off + s - 0.5 for s in subject_starts], -2.92, -1.7, color="#444444", lw=0.7, clip_on=False)
            for j in range(10):
                ax.text(off + (subject_starts[j] + subject_starts[j + 1]) / 2 - 0.5, -2.3, str(j + 1),
                        ha="center", va="center", fontsize=5.3, clip_on=False)
        ax.text(-3.5, -2.4, "Subject #:", ha="right", va="center", fontsize=6.3, clip_on=False)

    # tree and labels, same rows as the heatmap
    tree_ax = fig.add_axes(box(0, y0, LEFT, y0 + PANEL_H))
    tree_ax.set_xlim(0, LEFT)
    tree_ax.set_ylim(N_ROWS - 0.5, -0.5)
    tree_ax.axis("off")
    tips = {}
    for i, taxon in enumerate(taxa):
        t = tree_ax.text(278.7, i, taxon, ha="right", va="center", fontsize=7.3, clip_on=False)
        left_px = t.get_window_extent(renderer).x0
        tips[i] = tree_ax.transData.inverted().transform((left_px, 0))[0] - 1
    root_y = draw_node(tree_ax, TREE, tips)
    tree_ax.plot([49, TREE[0]], [root_y, root_y], color="k", lw=0.9, clip_on=False)
    tree_ax.text(22, root_y, name, rotation=90, ha="center", va="center", fontsize=12, clip_on=False)
    if p < 2:
        tree_ax.plot([11, 222], [N_ROWS - 0.5, N_ROWS - 0.5], color="k", lw=1.1, clip_on=False, dashes=(7, 6))

cax = fig.add_axes(box(652, TOP, 676, BOTTOM))
cbar = fig.colorbar(mesh, cax=cax)
cbar.set_ticks(cbar_ticks)
cbar.ax.set_yticklabels(["\u22123.0", "\u22122.5", "\u22122.0", "\u22121.5", "\u22121.0", "\u22120.5", "0.0"])
cbar.ax.tick_params(length=4.5, width=0.8, labelsize=9.8, pad=5)
cbar.outline.set_linewidth(0.8)
cbar.outline.set_edgecolor("#333333")

fig.text(750 / W, 1 - 538 / H, r"log$_{10}$($\mathit{proportional\ abundance}$)", rotation=90,
         ha="center", va="center", fontsize=12.3)

fig.savefig("out.png", dpi=100)
